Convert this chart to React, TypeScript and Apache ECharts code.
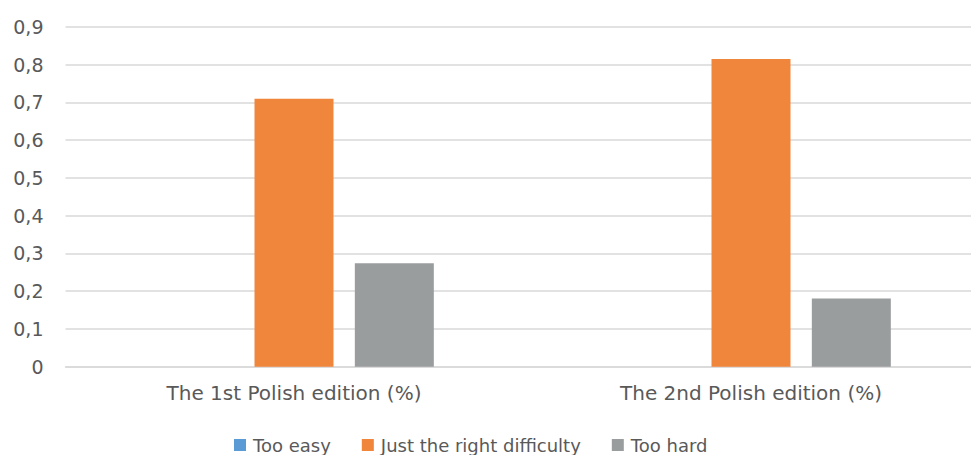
import React, { useEffect, useRef } from "react";
import * as echarts from "echarts";

const categories = ["The 1st Polish edition (%)", "The 2nd Polish edition (%)"];
const seriesNames = ["Too easy", "Just the right difficulty", "Too hard"];
const tooEasy = [0, 0];
const justRight = [0.71, 0.815];
const tooHard = [0.274, 0.181];
const colors = ["#5B9BD5", "#F0853C", "#9A9D9E"];

export default function App() {
  const ref = useRef<HTMLDivElement>(null);
  useEffect(() => {
    if (!ref.current) return;
    const chart = echarts.init(ref.current, null, { renderer: "svg" });
    const font = "'DejaVu Sans', sans-serif";
    const values = [tooEasy, justRight, tooHard];
    chart.setOption({
      animation: false,
      textStyle: { fontFamily: font },
      grid: { left: 65.5, width: 914, top: 27, bottom: 88.3, containLabel: false },
      legend: {
        data: seriesNames,
        top: 431,
        left: 229,
        itemWidth: 12,
        itemHeight: 12,
        itemGap: 31,
        icon: "rect",
        textStyle: { color: "#595959", fontSize: 18, fontFamily: font, padding: [0, 0, 0, 2] },
      },
      xAxis: {
        type: "category",
        data: categories,
        axisLine: { lineStyle: { color: "#d9d9d9", width: 1.5 } },
        axisTick: { show: false },
        axisLabel: { color: "#595959", fontSize: 20, margin: 16, fontFamily: font },
      },
      yAxis: {
        type: "value",
        min: 0,
        max: 0.9,
        interval: 0.1,
        axisLine: { show: false },
        axisTick: { show: false },
        splitLine: { lineStyle: { color: "#d9d9d9", width: 1.5 } },
        axisLabel: {
          color: "#595959",
          fontSize: 19,
          margin: 22,
          fontFamily: font,
          formatter: (v: number) => (v === 0 ? "0" : v.toFixed(1).replace(".", ",")),
        },
      },
      series: seriesNames.map((name, i) => ({
        name,
        type: "bar",
        data: values[i],
        barWidth: 79,
        barGap: "27%",
        itemStyle: { color: colors[i] },
      })),
    });
    return () => chart.dispose();
  }, []);
  return (
    <div style={{ width: 971, height: 455, position: "absolute", left: 0, top: 0, overflow: "hidden", background: "#fff" }}>
      <div ref={ref} style={{ width: 990, height: 455, position: "absolute", left: 0, top: 0 }} />
    </div>
  );
}
